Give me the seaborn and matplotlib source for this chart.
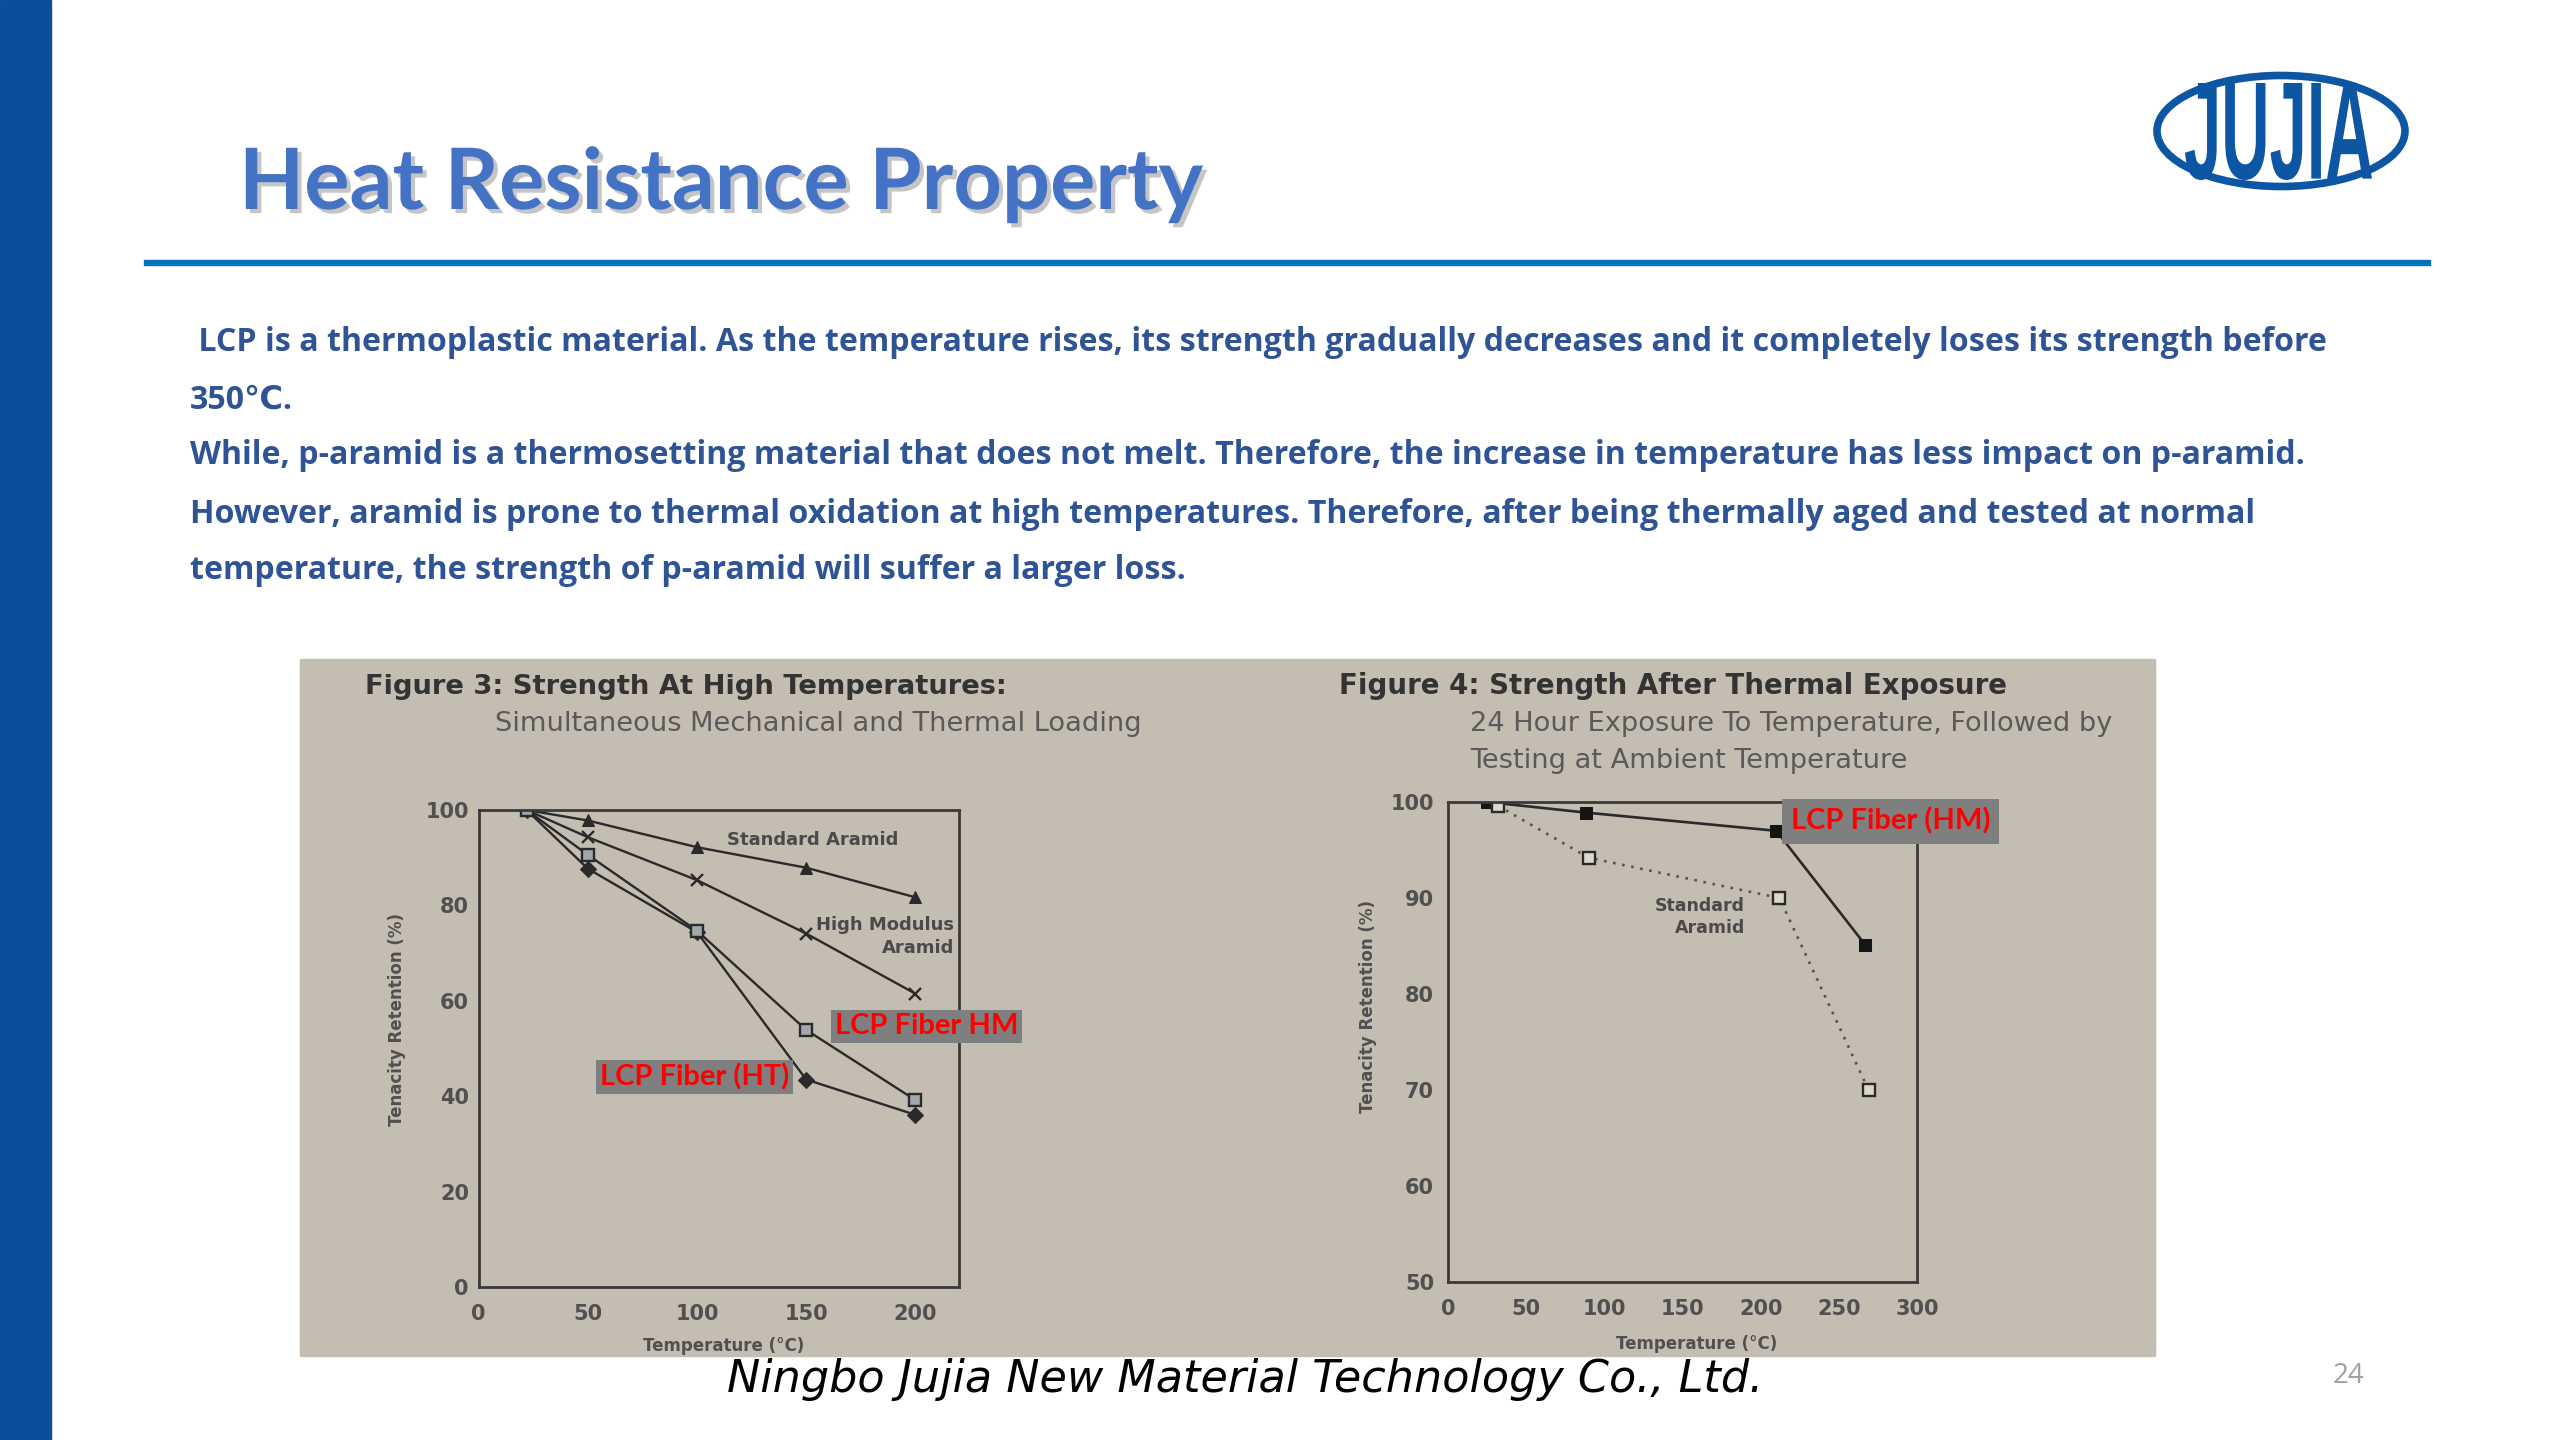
import matplotlib
matplotlib.use("Agg")
import matplotlib.pyplot as plt
import matplotlib.patheffects as pe
from matplotlib.patches import Rectangle, Ellipse, PathPatch
from matplotlib.textpath import TextPath
from matplotlib.font_manager import FontProperties
from matplotlib.transforms import Affine2D
import seaborn as sns

# ---- data ----
fig3_temps = [22, 50, 100, 150, 200]
fig3_standard_aramid = [100, 97.8, 92.2, 87.9, 81.7]
fig3_hm_aramid = [100, 94.3, 85.3, 74.1, 61.5]
fig3_lcp_hm = [100, 90.6, 74.7, 53.9, 39.2]
fig3_lcp_ht = [100, 87.7, 74.4, 43.5, 36.1]

fig4_lcp_temps = [25, 88, 210, 267]
fig4_lcp_hm = [100, 98.9, 97.0, 85.1]
fig4_std_temps = [32, 90, 212, 269]
fig4_standard_aramid = [99.6, 94.2, 90.0, 70.0]

fig3_xticks = [0, 50, 100, 150, 200]
fig3_yticks = [0, 20, 40, 60, 80, 100]
fig4_xticks = [0, 50, 100, 150, 200, 250, 300]
fig4_yticks = [50, 60, 70, 80, 90, 100]

title = "Heat Resistance Property"
paragraph = [
    " LCP is a thermoplastic material. As the temperature rises, its strength gradually decreases and it completely loses its strength before",
    "350\u2103.",
    "While, p-aramid is a thermosetting material that does not melt. Therefore, the increase in temperature has less impact on p-aramid.",
    "However, aramid is prone to thermal oxidation at high temperatures. Therefore, after being thermally aged and tested at normal",
    "temperature, the strength of p-aramid will suffer a larger loss.",
]
footer = "Ningbo Jujia New Material Technology Co., Ltd."
page_no = "24"

# ---- styling ----
sns.set_style("white")
plt.rcParams['font.family'] = ['DejaVu Sans']

W, H = 2560, 1440
PANEL = '#c4bdb1'
INK = '#2a2a2a'
GREY_TXT = '#4a4a4a'
BLUE_TXT = '#2f5496'


def fx(x):
    return x / W


def fy(y):
    return 1 - y / H


def px_axes(x0, y0, x1, y1):
    return [fx(x0), fy(y1), (x1 - x0) / W, (y1 - y0) / H]


fig = plt.figure(figsize=(25.6, 14.4), dpi=100)
fig.patch.set_facecolor('white')

# left blue band and title rule
fig.patches.append(Rectangle((0, 0), fx(51), 1, transform=fig.transFigure,
                             color='#0b4f9a', zorder=-1))
fig.patches.append(Rectangle((fx(144), fy(265)), fx(2430) - fx(144), 5 / H,
                             transform=fig.transFigure, color='#0070c0', zorder=-1))

# title with shadow
fig.text(fx(239), fy(209), title, fontsize=61, fontweight='bold', color='#4472c4',
         family=['Lato', 'DejaVu Sans'], va='baseline', ha='left',
         path_effects=[pe.SimplePatchShadow(offset=(3, -3), shadow_rgbFace='#808080', alpha=0.45),
                       pe.Normal()])

# paragraph
baselines = [351, 409, 464, 523, 579]
for line, yb in zip(paragraph, baselines):
    fig.text(fx(190), fy(yb), line, fontsize=23.1, fontweight='bold', color=BLUE_TXT,
             family=['Open Sans', 'DejaVu Sans'], va='baseline', ha='left')

# grey picture panel
fig.patches.append(Rectangle((fx(300), fy(1356)), fx(2155) - fx(300), (1356 - 659) / H,
                             transform=fig.transFigure, color=PANEL, zorder=-1))

# chart headings
fig.text(fx(365), fy(694), "Figure 3: Strength At High Temperatures:", fontsize=19.7,
         fontweight='bold', color='#333333', va='baseline')
fig.text(fx(495), fy(731), "Simultaneous Mechanical and Thermal Loading", fontsize=19.6,
         color='#5a5a5a', va='baseline')
fig.text(fx(1339), fy(694), "Figure 4: Strength After Thermal Exposure", fontsize=19.9,
         fontweight='bold', color='#333333', va='baseline')
fig.text(fx(1470), fy(731), "24 Hour Exposure To Temperature, Followed by", fontsize=19.6,
         color='#5a5a5a', va='baseline')
fig.text(fx(1470), fy(768), "Testing at Ambient Temperature", fontsize=19.6,
         color='#5a5a5a', va='baseline')


def style_axes(ax):
    ax.set_facecolor(PANEL)
    for s in ax.spines.values():
        s.set_color('#3a3a3a')
        s.set_linewidth(2)
    ax.tick_params(labelsize=15, labelcolor='#505050', colors='#3a3a3a')
    for lab in ax.get_xticklabels() + ax.get_yticklabels():
        lab.set_fontweight('bold')


# ---- Figure 3 ----
ax3 = fig.add_axes(px_axes(478.6, 810, 959, 1287))
line_kw = dict(ax=ax3, color=INK, linewidth=1.7, estimator=None, sort=False,
               markeredgecolor=INK)
sns.lineplot(x=fig3_temps, y=fig3_standard_aramid, marker='^', markersize=9, **line_kw)
sns.lineplot(x=fig3_temps, y=fig3_hm_aramid, marker='x', markersize=8,
             markeredgewidth=1.7, **line_kw)
sns.lineplot(x=fig3_temps, y=fig3_lcp_ht, marker='D', markersize=8, **line_kw)
sns.lineplot(x=fig3_temps, y=fig3_lcp_hm, marker='s', markersize=9,
             markerfacecolor='#a3a6aa', markeredgewidth=1.7, **line_kw)
ax3.set_xlim(0, 220)
ax3.set_ylim(0, 100)
ax3.set_xticks(fig3_xticks)
ax3.set_yticks(fig3_yticks)
ax3.tick_params(axis='x', length=0, pad=12)
ax3.tick_params(axis='y', length=0, pad=7)
style_axes(ax3)
ax3.set_xlabel("Temperature (\u00b0C)", fontsize=12, fontweight='bold', color='#505050')
ax3.set_ylabel("Tenacity Retention (%)", fontsize=12, fontweight='bold', color='#505050')
ax3.xaxis.set_label_coords(0.51, -0.105)
ax3.yaxis.set_label_coords(-0.151, 0.56)
ax3.text(113.6, 93.7, "Standard Aramid", fontsize=13, fontweight='bold', color=GREY_TXT,
         va='center', ha='left')
ax3.text(217.7, 73.5, "High Modulus\nAramid", fontsize=13, fontweight='bold', color=GREY_TXT,
         va='center', ha='right', multialignment='right', linespacing=1.3)
red_box = dict(boxstyle='square,pad=0.12', facecolor='#7f7f7f', edgecolor='none')
ax3.text(163, 54.7, "LCP Fiber HM", fontsize=21, fontweight='bold', color='#ff0000',
         family=['Lato', 'DejaVu Sans'], va='center', ha='left', bbox=red_box, clip_on=False)
ax3.text(55.5, 44, "LCP Fiber (HT)", fontsize=21, fontweight='bold', color='#ff0000',
         family=['Lato', 'DejaVu Sans'], va='center', ha='left', bbox=red_box)

# ---- Figure 4 ----
ax4 = fig.add_axes(px_axes(1448, 802, 1917, 1282))
sns.lineplot(x=fig4_lcp_temps, y=fig4_lcp_hm, ax=ax4, color=INK, linewidth=1.9,
             estimator=None, sort=False, marker='s', markersize=9,
             markerfacecolor='#151515', markeredgecolor='#151515')
sns.lineplot(x=fig4_std_temps, y=fig4_standard_aramid, ax=ax4, color='#555555',
             linewidth=1.9, linestyle=(0, (1, 2.5)), estimator=None, sort=False,
             marker='s', markersize=8, markerfacecolor='#dcd8d0',
             markeredgecolor=INK, markeredgewidth=1.7)
ax4.set_xlim(0, 300)
ax4.set_ylim(50, 100)
ax4.set_xticks(fig4_xticks)
ax4.set_xticks([25, 75, 125, 175, 225, 275], minor=True)
ax4.set_yticks(fig4_yticks)
style_axes(ax4)
ax4.tick_params(axis='x', which='major', direction='in', length=9, width=2, pad=12)
ax4.tick_params(axis='x', which='minor', direction='in', length=5, width=1.5)
ax4.tick_params(axis='y', direction='out', length=6, width=1.5, pad=4)
ax4.set_xlabel("Temperature (\u00b0C)", fontsize=12, fontweight='bold', color='#505050')
ax4.set_ylabel("Tenacity Retention (%)", fontsize=12, fontweight='bold', color='#505050')
ax4.xaxis.set_label_coords(0.53, -0.11)
ax4.yaxis.set_label_coords(-0.151, 0.573)
ax4.text(190, 88.0, "Standard\nAramid", fontsize=12.5, fontweight='bold', color=GREY_TXT,
         va='center', ha='right', multialignment='right', linespacing=1.3)
ax4.text(219.5, 98.0, "LCP Fiber (HM)", fontsize=21, fontweight='bold', color='#ff0000',
         family=['Lato', 'DejaVu Sans'], va='center', ha='left', clip_on=False,
         bbox=dict(boxstyle='square,pad=0.3', facecolor='#7f7f7f', edgecolor='none'))

# ---- logo ----
axl = fig.add_axes(px_axes(2140, 60, 2420, 200))
axl.set_xlim(2140, 2420)
axl.set_ylim(H - 200, H - 60)
axl.axis('off')
axl.add_patch(Ellipse((2281, H - 131), 248, 111, fill=False, edgecolor='#0d56a3', linewidth=5.5))
tp = TextPath((0, 0), "JUJIA", size=100, prop=FontProperties(family='Liberation Sans', weight='bold'))
ext = tp.get_extents()
sx, sy = 187 / ext.width, 97 / ext.height
tr = Affine2D().scale(sx, sy).translate(2185 - ext.x0 * sx, (H - 180) - ext.y0 * sy)
axl.add_patch(PathPatch(tp, transform=tr + axl.transData, facecolor='#0d56a3', edgecolor='none'))

# footer
fig.text(fx(727), fy(1392), footer, fontsize=32, style='italic', color='black',
         family=['DejaVu Sans'], va='baseline', ha='left')
fig.text(fx(2333), fy(1383), page_no, fontsize=20, color='#a0a0a0',
         family=['Open Sans', 'DejaVu Sans'], va='baseline', ha='left')

fig.savefig("out.png", dpi=100, facecolor='white')
